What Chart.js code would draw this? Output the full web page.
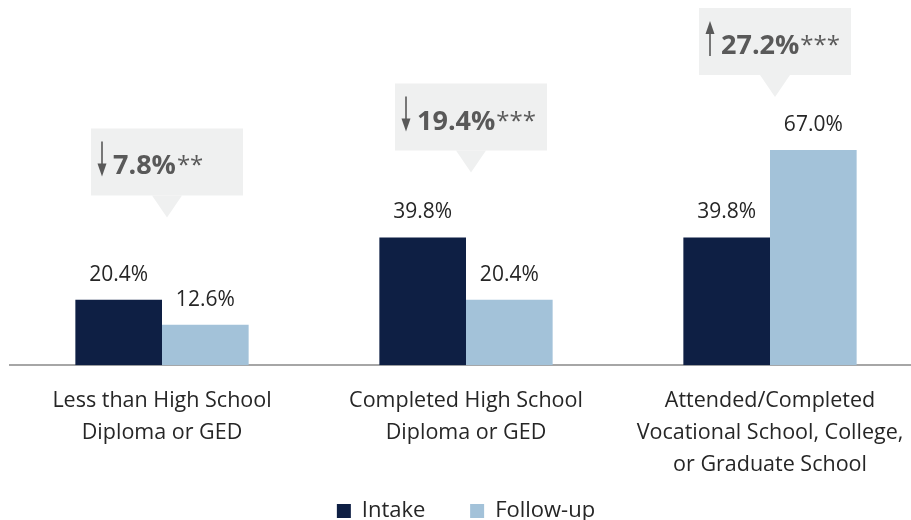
<!DOCTYPE html>
<html>
<head>
<meta charset="utf-8">
<script src="https://cdn.jsdelivr.net/npm/chart.js@4.4.0/dist/chart.umd.min.js"></script>
<style>
  html, body { margin: 0; padding: 0; background: #fff; overflow: hidden; }
  #wrap { width: 922px; height: 532px; }
</style>
</head>
<body>
<div id="wrap"><canvas id="myChart" width="922" height="532"></canvas></div>
<script>
const categories = [
    ['Less than High School', 'Diploma or GED'],
    ['Completed High School', 'Diploma or GED'],
    ['Attended/Completed', 'Vocational School, College,', 'or Graduate School']
];
const intake = [20.4, 39.8, 39.8];
const followUp = [12.6, 20.4, 67.0];
const changes = ['7.8%', '19.4%', '27.2%'];
const stars = ['**', '***', '***'];
const directions = ['down', 'down', 'up'];
const calloutLevel = [46, 60, 83.5];

const FONT = '"Open Sans", sans-serif';
const GREY = '#595959';

// value labels above the bars
const valueLabels = {
    id: 'valueLabels',
    afterDatasetsDraw(chart) {
        const c = chart.ctx;
        c.save();
        c.font = '21px ' + FONT;
        c.fillStyle = '#262626';
        c.textAlign = 'center';
        c.textBaseline = 'alphabetic';
        chart.data.datasets.forEach((ds, di) => {
            chart.getDatasetMeta(di).data.forEach((bar, i) => {
                c.fillText(ds.data[i].toFixed(1) + '%', bar.x, bar.y - 19);
            });
        });
        c.restore();
    }
};

// grey speech-bubble callouts with the change
const callouts = {
    id: 'callouts',
    afterDatasetsDraw(chart) {
        const c = chart.ctx;
        const xs = chart.scales.x, ys = chart.scales.y;
        c.save();
        changes.forEach((txt, i) => {
            const cx = xs.getPixelForValue(i) + 5;
            const apex = ys.getPixelForValue(calloutLevel[i]);
            const bottom = apex - 22;
            const w = 152, h = 67;
            const left = cx - w / 2;
            c.fillStyle = '#eff0f0';
            c.fillRect(left, bottom - h, w, h);
            c.beginPath();
            c.moveTo(cx - 15, bottom);
            c.lineTo(cx + 15, bottom);
            c.lineTo(cx, apex);
            c.closePath();
            c.fill();

            // arrow
            const ax = left + 11;
            const top = bottom - 54, bot = bottom - 19;
            c.strokeStyle = GREY;
            c.fillStyle = GREY;
            c.lineWidth = 1.6;
            c.beginPath();
            if (directions[i] === 'down') {
                c.moveTo(ax, top); c.lineTo(ax, bot - 10);
                c.stroke();
                c.beginPath();
                c.moveTo(ax - 4.5, bot - 13); c.lineTo(ax + 4.5, bot - 13); c.lineTo(ax, bot);
            } else {
                c.moveTo(ax, bot); c.lineTo(ax, top + 10);
                c.stroke();
                c.beginPath();
                c.moveTo(ax - 4.5, top + 13); c.lineTo(ax + 4.5, top + 13); c.lineTo(ax, top);
            }
            c.closePath();
            c.fill();

            c.textAlign = 'left';
            c.textBaseline = 'alphabetic';
            c.font = 'bold 27px ' + FONT;
            const tx = left + 22;
            c.fillText(txt, tx, bottom - 21);
            const tw = c.measureText(txt).width;
            c.font = '24px ' + FONT;
            c.fillText(stars[i], tx + tw + 1, bottom - 22);
        });
        c.restore();
    }
};

const ctx = document.getElementById('myChart').getContext('2d');
let myChart = new Chart(ctx, {
    type: 'bar',
    data: {
        labels: categories,
        datasets: [
            {
                label: 'Intake',
                data: intake,
                backgroundColor: '#0e1f44',
                barPercentage: 1,
                categoryPercentage: 0.57
            },
            {
                label: 'Follow-up',
                data: followUp,
                backgroundColor: '#a3c2d9',
                barPercentage: 1,
                categoryPercentage: 0.57
            }
        ]
    },
    options: {
        responsive: false,
        animation: false,
        layout: { padding: { left: 10, right: 0, top: 44, bottom: 0 } },
        plugins: {
            legend: {
                position: 'bottom',
                labels: {
                    font: { family: FONT, size: 22 },
                    color: '#262626',
                    boxWidth: 14,
                    boxHeight: 14,
                    padding: 8,
                    // wider gap between the two entries without growing the legend height
                    generateLabels: (chart) => {
                        const items = Chart.defaults.plugins.legend.labels.generateLabels(chart);
                        items.forEach((it, i) => {
                            if (i < items.length - 1) it.text += '\u2003\u2002\u2009';
                        });
                        return items;
                    }
                }
            },
            tooltip: { enabled: false }
        },
        scales: {
            x: {
                grid: { display: false },
                border: { display: true, color: '#a6a6a6', width: 2 },
                ticks: {
                    font: { family: FONT, size: 21.5, lineHeight: 1.5 },
                    color: '#262626',
                    maxRotation: 0,
                    autoSkip: false,
                    padding: 11
                }
            },
            y: {
                display: false,
                min: 0,
                max: 100
            }
        }
    },
    plugins: [valueLabels, callouts]
});
</script>
</body>
</html>
